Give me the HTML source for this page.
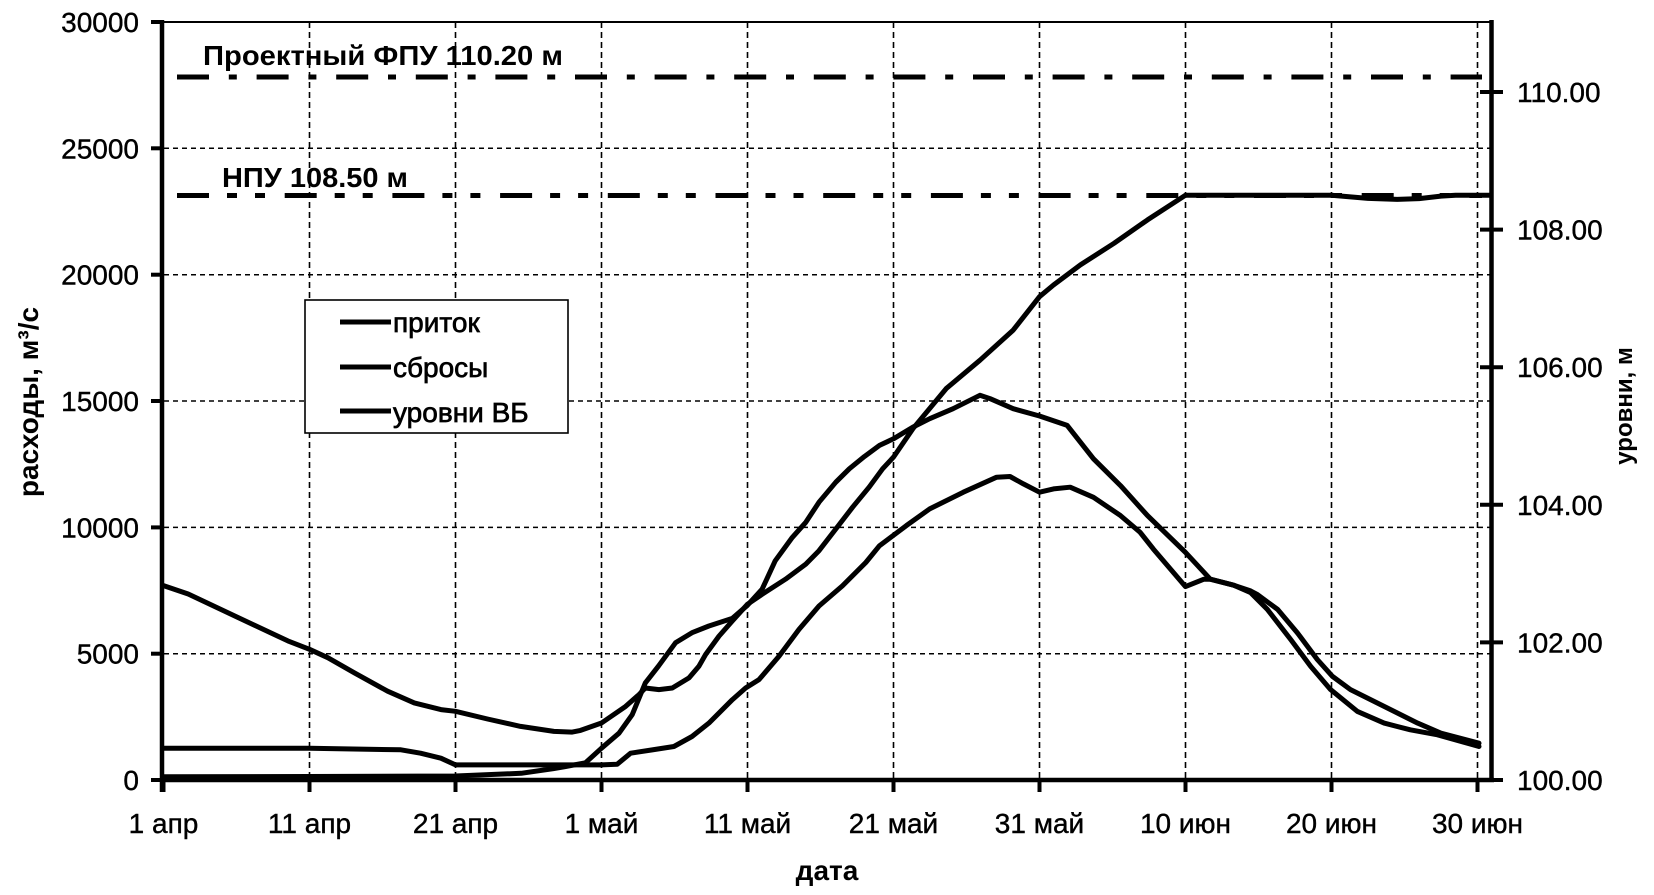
<!DOCTYPE html>
<html>
<head>
<meta charset="utf-8">
<style>
html,body{margin:0;padding:0;background:#fff;}
svg{display:block;}
text{font-family:"Liberation Sans",Arial,sans-serif;fill:#000;}
</style>
</head>
<body>
<svg width="1654" height="895" viewBox="0 0 1654 895" xmlns="http://www.w3.org/2000/svg">
<rect x="0" y="0" width="1654" height="895" fill="#fff"/>

<!-- horizontal gridlines -->
<g stroke="#000" stroke-width="1.5" stroke-dasharray="5 4" fill="none">
<line x1="164" y1="653.7" x2="1490" y2="653.7"/>
<line x1="164" y1="527.4" x2="1490" y2="527.4"/>
<line x1="164" y1="401" x2="1490" y2="401"/>
<line x1="164" y1="274.7" x2="1490" y2="274.7"/>
<line x1="164" y1="148.3" x2="1490" y2="148.3"/>
</g>
<!-- vertical gridlines -->
<g stroke="#000" stroke-width="1.6" stroke-dasharray="6 4" fill="none">
<line x1="309.5" y1="22" x2="309.5" y2="780"/>
<line x1="455.5" y1="22" x2="455.5" y2="780"/>
<line x1="601.5" y1="22" x2="601.5" y2="780"/>
<line x1="747.5" y1="22" x2="747.5" y2="780"/>
<line x1="893.5" y1="22" x2="893.5" y2="780"/>
<line x1="1039.5" y1="22" x2="1039.5" y2="780"/>
<line x1="1185.5" y1="22" x2="1185.5" y2="780"/>
<line x1="1331.5" y1="22" x2="1331.5" y2="780"/>
<line x1="1477.5" y1="22" x2="1477.5" y2="780"/>
</g>

<!-- FPU / NPU reference lines -->
<line x1="177" y1="77" x2="1482" y2="77" stroke="#000" stroke-width="5" stroke-dasharray="32 19.8 8 19.8"/>
<line x1="177" y1="195.5" x2="1482" y2="195.5" stroke="#000" stroke-width="5" stroke-dasharray="32 18 10 18 10 19.7"/>

<text x="203" y="65" font-size="28" font-weight="bold" textLength="360" lengthAdjust="spacingAndGlyphs">Проектный ФПУ 110.20 м</text>
<text x="222" y="187" font-size="28" font-weight="bold" textLength="186" lengthAdjust="spacingAndGlyphs">НПУ 108.50 м</text>

<!-- series -->
<g fill="none" stroke="#000" stroke-width="5" stroke-linejoin="round" stroke-linecap="round">
<!-- приток -->
<polyline points="163.5,776.7 309.5,776.5 455.5,776.0 521.2,773.3 553.3,768.6 565.0,766.6 585.4,762.8 601.5,748.2 619.0,733.2 632.2,714.7 645.3,682.9 658.4,666.2 675.5,642.8 692.0,632.7 708.9,626.0 732.3,618.4 747.4,605.3 762.1,589.2 775.2,560.8 792.3,537.4 805.8,522.3 819.0,502.2 835.8,482.2 849.3,468.8 864.3,456.6 879.5,445.4 893.5,438.8 912.9,427.1 929.7,418.7 953.1,408.7 979.9,395.3 989.9,398.6 1013.2,408.7 1039.5,416.0 1067.2,425.4 1093.5,458.8 1120.5,485.6 1147.5,515.6 1185.5,552.4 1210.3,579.2 1233.7,585.2 1250.6,590.9 1257.0,594.3 1277.5,609.3 1297.3,632.7 1317.3,659.5 1332.4,676.3 1350.5,689.6 1384.1,706.4 1417.6,723.1 1441.0,733.2 1479.0,743.2"/>
<!-- сбросы -->
<polyline points="163.5,748.2 309.5,748.2 400.9,749.8 420.5,753.2 440.9,758.2 455.5,764.9 601.5,764.9 617.1,764.3 630.6,753.2 652.2,749.9 673.9,746.5 692.0,736.5 708.9,723.1 732.3,699.7 745.6,688.0 759.0,679.6 779.0,656.2 799.0,629.4 819.0,606.0 842.4,585.9 865.8,562.5 879.5,545.7 906.2,525.7 929.7,508.9 963.3,492.2 996.6,477.2 1010.0,476.5 1023.4,483.9 1039.5,492.2 1053.5,488.9 1070.2,487.2 1093.5,497.3 1120.5,515.6 1140.2,532.4 1153.4,549.1 1185.5,586.6 1203.9,579.2 1210.3,579.2 1233.7,585.2 1250.6,592.6 1267.3,609.3 1290.6,639.4 1310.6,666.2 1330.6,689.6 1357.4,711.4 1384.1,723.1 1410.3,729.8 1437.5,734.8 1479.0,746.5"/>
<!-- уровни ВБ -->
<polyline points="163.5,585.6 188.2,594.0 238.0,617.5 287.9,640.9 309.5,649.3 327.8,657.7 354.3,672.8 387.6,691.2 414.3,702.9 440.9,709.6 455.5,711.3 487.5,719.0 520.6,726.4 553.9,731.4 572.2,732.1 580.5,730.4 601.5,723.0 625.6,706.4 638.9,694.7 645.3,688.0 658.9,689.6 672.3,688.0 689.0,677.9 698.9,666.2 705.6,654.5 719.0,636.1 732.3,621.0 747.4,604.3 762.1,594.3 785.5,579.2 805.8,564.1 819.0,550.7 835.8,529.0 852.6,507.2 869.1,487.2 882.6,468.8 893.5,457.1 912.9,428.7 946.2,388.6 980.0,360.2 1013.2,330.1 1039.5,296.7 1053.5,285.0 1080.4,264.9 1114.0,243.3 1147.5,219.9 1185.5,195.2 1331.5,195.2 1368.0,198.4 1397.2,199.4 1419.1,198.6 1441.0,196.1 1455.6,195.2 1490.6,195.2"/>
</g>

<!-- legend -->
<rect x="305" y="300" width="263" height="133" fill="#fff" stroke="#000" stroke-width="1.6"/>
<g stroke="#000" stroke-width="5">
<line x1="340" y1="322" x2="391" y2="322"/>
<line x1="340" y1="367" x2="391" y2="367"/>
<line x1="340" y1="411" x2="391" y2="411"/>
</g>
<g font-size="28" stroke="#000" stroke-width="0.7">
<text x="393" y="332">приток</text>
<text x="393" y="377">сбросы</text>
<text x="393" y="422">уровни ВБ</text>
</g>

<!-- axes -->
<line x1="162" y1="22" x2="1491.5" y2="22" stroke="#000" stroke-width="2"/>
<line x1="162" y1="20" x2="162" y2="792" stroke="#000" stroke-width="4.5"/>
<line x1="1491.5" y1="20" x2="1491.5" y2="782" stroke="#000" stroke-width="4.5"/>
<line x1="160" y1="780" x2="1494" y2="780" stroke="#000" stroke-width="4.5"/>

<!-- left ticks -->
<g stroke="#000" stroke-width="4">
<line x1="151" y1="780" x2="162" y2="780"/>
<line x1="151" y1="653.7" x2="162" y2="653.7"/>
<line x1="151" y1="527.4" x2="162" y2="527.4"/>
<line x1="151" y1="401" x2="162" y2="401"/>
<line x1="151" y1="274.7" x2="162" y2="274.7"/>
<line x1="151" y1="148.3" x2="162" y2="148.3"/>
<line x1="151" y1="22" x2="162" y2="22"/>
</g>
<!-- right ticks -->
<g stroke="#000" stroke-width="4">
<line x1="1480" y1="780" x2="1503" y2="780"/>
<line x1="1480" y1="642.4" x2="1503" y2="642.4"/>
<line x1="1480" y1="504.8" x2="1503" y2="504.8"/>
<line x1="1480" y1="367.2" x2="1503" y2="367.2"/>
<line x1="1480" y1="229.6" x2="1503" y2="229.6"/>
<line x1="1480" y1="92" x2="1503" y2="92"/>
</g>
<!-- x ticks -->
<g stroke="#000" stroke-width="4">
<line x1="163.5" y1="780" x2="163.5" y2="792"/>
<line x1="309.5" y1="780" x2="309.5" y2="792"/>
<line x1="455.5" y1="780" x2="455.5" y2="792"/>
<line x1="601.5" y1="780" x2="601.5" y2="792"/>
<line x1="747.5" y1="780" x2="747.5" y2="792"/>
<line x1="893.5" y1="780" x2="893.5" y2="792"/>
<line x1="1039.5" y1="780" x2="1039.5" y2="792"/>
<line x1="1185.5" y1="780" x2="1185.5" y2="792"/>
<line x1="1331.5" y1="780" x2="1331.5" y2="792"/>
<line x1="1477.5" y1="780" x2="1477.5" y2="792"/>
</g>

<!-- left tick labels -->
<g font-size="28" text-anchor="end" stroke="#000" stroke-width="0.4">
<text x="139" y="790">0</text>
<text x="139" y="663.7">5000</text>
<text x="139" y="537.4">10000</text>
<text x="139" y="411">15000</text>
<text x="139" y="284.7">20000</text>
<text x="139" y="158.3">25000</text>
<text x="139" y="32">30000</text>
</g>
<!-- right tick labels -->
<g font-size="28" text-anchor="start" stroke="#000" stroke-width="0.4">
<text x="1517" y="790">100.00</text>
<text x="1517" y="652.4">102.00</text>
<text x="1517" y="514.8">104.00</text>
<text x="1517" y="377.2">106.00</text>
<text x="1517" y="239.6">108.00</text>
<text x="1517" y="102">110.00</text>
</g>
<!-- x labels -->
<g font-size="28" text-anchor="middle" stroke="#000" stroke-width="0.4">
<text x="163.5" y="833">1 апр</text>
<text x="309.5" y="833">11 апр</text>
<text x="455.5" y="833">21 апр</text>
<text x="601.5" y="833">1 май</text>
<text x="747.5" y="833">11 май</text>
<text x="893.5" y="833">21 май</text>
<text x="1039.5" y="833">31 май</text>
<text x="1185.5" y="833">10 июн</text>
<text x="1331.5" y="833">20 июн</text>
<text x="1477.5" y="833">30 июн</text>
</g>

<!-- axis titles -->
<text x="827" y="880" font-size="28" font-weight="bold" text-anchor="middle">дата</text>
<text transform="translate(38,402) rotate(-90)" font-size="28" font-weight="bold" text-anchor="middle">расходы, м³/с</text>
<text transform="translate(1632,406) rotate(-90)" font-size="24" font-weight="bold" text-anchor="middle">уровни, м</text>
</svg>
</body>
</html>
